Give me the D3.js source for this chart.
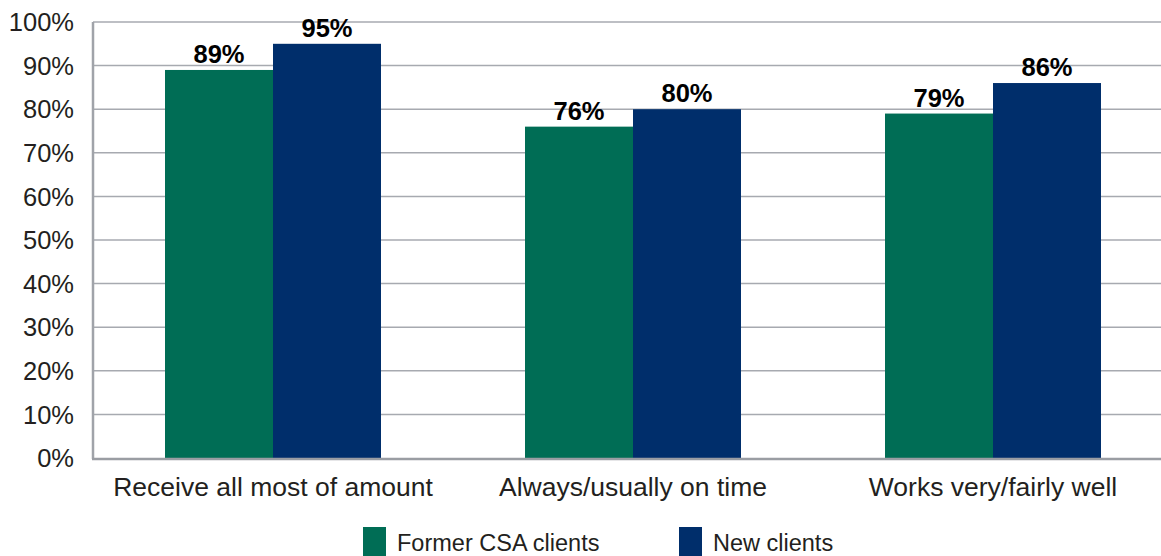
<!DOCTYPE html>
<html>
<head>
<meta charset="utf-8">
<script src="https://cdn.jsdelivr.net/npm/d3@7"></script>
<style>
  body { margin: 0; background: #fff; }
  text { font-family: "Liberation Sans", Arial, sans-serif; }
</style>
</head>
<body>
<div id="vis"></div>
<script>
const categories = ["Receive all most of amount", "Always/usually on time", "Works very/fairly well"];
const seriesNames = ["Former CSA clients", "New clients"];
const formerValues = [89, 76, 79];
const newValues = [95, 80, 86];
const yTicks = [0, 10, 20, 30, 40, 50, 60, 70, 80, 90, 100];
const colors = ["#006d55", "#002e6b"];

const W = 1161, H = 556;
const plotLeft = 93, plotRight = 1173, plotTop = 22, plotBottom = 458;

const svg = d3.select("#vis").append("svg")
    .attr("width", W)
    .attr("height", H);

const x = d3.scaleBand()
    .domain(categories)
    .range([plotLeft, plotRight])
    .paddingInner(0.4)
    .paddingOuter(0.2);

const xs = d3.scaleBand()
    .domain(seriesNames)
    .range([0, x.bandwidth()]);

const y = d3.scaleLinear()
    .domain([0, 100])
    .range([plotBottom, plotTop]);

// gridlines
svg.append("g")
    .selectAll("line")
    .data(yTicks.filter(d => d > 0))
    .enter().append("line")
    .attr("x1", plotLeft).attr("x2", W)
    .attr("y1", d => y(d)).attr("y2", d => y(d))
    .attr("stroke", "#a7aab0")
    .attr("stroke-width", 1.5);

// y tick labels
svg.append("g")
    .selectAll("text")
    .data(yTicks)
    .enter().append("text")
    .attr("x", 74)
    .attr("y", d => y(d))
    .attr("dy", "0.36em")
    .attr("text-anchor", "end")
    .attr("font-size", 25.5)
    .attr("fill", "#231f20")
    .text(d => d + "%");

const rows = categories.map((c, i) => ({
    cat: c,
    vals: [formerValues[i], newValues[i]]
}));

const groups = svg.append("g")
    .selectAll("g")
    .data(rows)
    .enter().append("g")
    .attr("transform", d => `translate(${x(d.cat)},0)`);

groups.selectAll("rect")
    .data(d => d.vals.map((v, j) => ({ v: v, s: seriesNames[j], j: j })))
    .enter().append("rect")
    .attr("x", d => xs(d.s))
    .attr("y", d => y(d.v))
    .attr("width", xs.bandwidth())
    .attr("height", d => plotBottom - y(d.v))
    .attr("fill", d => colors[d.j]);

groups.selectAll("text.val")
    .data(d => d.vals.map((v, j) => ({ v: v, s: seriesNames[j] })))
    .enter().append("text")
    .attr("class", "val")
    .attr("x", d => xs(d.s) + xs.bandwidth() / 2)
    .attr("y", d => y(d.v) - 7)
    .attr("text-anchor", "middle")
    .attr("font-size", 25.5)
    .attr("font-weight", "bold")
    .attr("fill", "#000")
    .text(d => d.v + "%");

// axes lines
svg.append("line")
    .attr("x1", plotLeft).attr("x2", plotLeft)
    .attr("y1", plotTop).attr("y2", plotBottom + 1)
    .attr("stroke", "#a0a3a9")
    .attr("stroke-width", 2.5);

svg.append("line")
    .attr("x1", plotLeft - 1).attr("x2", W)
    .attr("y1", plotBottom + 1).attr("y2", plotBottom + 1)
    .attr("stroke", "#9a9da3")
    .attr("stroke-width", 2.5);

// category labels
svg.append("g")
    .selectAll("text")
    .data(categories)
    .enter().append("text")
    .attr("x", d => x(d) + x.bandwidth() / 2)
    .attr("y", 496)
    .attr("text-anchor", "middle")
    .attr("font-size", 26.5)
    .attr("fill", "#231f20")
    .text(d => d);

// legend
const legendX = [363, 679];
const legend = svg.append("g")
    .selectAll("g")
    .data(seriesNames)
    .enter().append("g")
    .attr("transform", (d, i) => `translate(${legendX[i]},527)`);

legend.append("rect")
    .attr("width", 23)
    .attr("height", 30)
    .attr("fill", (d, i) => colors[i]);

legend.append("text")
    .attr("x", 34)
    .attr("y", 24)
    .attr("font-size", 23.5)
    .attr("fill", "#231f20")
    .text(d => d);
</script>
</body>
</html>
